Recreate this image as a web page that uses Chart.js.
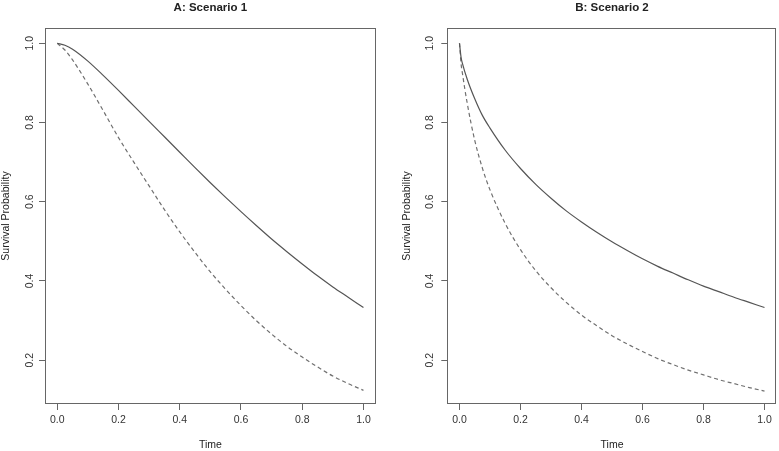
<!DOCTYPE html>
<html>
<head>
<meta charset="utf-8">
<script src="https://cdn.jsdelivr.net/npm/chart.js@4/dist/chart.umd.min.js"></script>
<style>
  html, body { margin: 0; padding: 0; background: #ffffff; }
  #wrap { position: relative; width: 779px; height: 451px; background: #ffffff; }
  canvas { position: absolute; top: 0; }
</style>
</head>
<body>
<div id="wrap">
  <canvas id="chartA" width="390" height="451" style="left:0px"></canvas>
  <canvas id="chartB" width="389" height="451" style="left:390px"></canvas>
</div>
<script>
// ---- Data ----
const panelTitles = ["A: Scenario 1", "B: Scenario 2"];
const xAxisLabel = "Time";
const yAxisLabel = "Survival Probability";
const xTickValues = [0.0, 0.2, 0.4, 0.6, 0.8, 1.0];
const yTickValues = [0.2, 0.4, 0.6, 0.8, 1.0];

// Scenario 1
const timeA = [0, 0.025, 0.05, 0.1, 0.15, 0.2, 0.25, 0.3, 0.35, 0.4, 0.45, 0.5,
               0.55, 0.6, 0.65, 0.7, 0.75, 0.8, 0.85, 0.9, 0.95, 1.0];
const scen1Solid  = [1.000, 0.995, 0.985, 0.955, 0.919, 0.881, 0.842, 0.803, 0.764, 0.725, 0.686, 0.648,
                     0.611, 0.575, 0.540, 0.506, 0.474, 0.443, 0.413, 0.385, 0.359, 0.333];
const scen1Dashed = [1.000, 0.983, 0.958, 0.897, 0.830, 0.762, 0.700, 0.640, 0.580, 0.524, 0.472, 0.423,
                     0.379, 0.338, 0.300, 0.266, 0.235, 0.208, 0.183, 0.160, 0.141, 0.124];

// Scenario 2
const timeB = [0, 0.005, 0.01, 0.025, 0.05, 0.075, 0.1, 0.15, 0.2, 0.25, 0.3, 0.35, 0.4,
               0.45, 0.5, 0.55, 0.6, 0.65, 0.7, 0.75, 0.8, 0.85, 0.9, 0.95, 1.0];
const scen2Solid  = [1.000, 0.965, 0.948, 0.910, 0.860, 0.818, 0.786, 0.730, 0.684, 0.644, 0.609, 0.577, 0.549,
                     0.523, 0.499, 0.477, 0.456, 0.437, 0.420, 0.403, 0.387, 0.373, 0.359, 0.346, 0.333];
const scen2Dashed = [1.000, 0.950, 0.922, 0.850, 0.755, 0.685, 0.630, 0.545, 0.479, 0.426, 0.383, 0.346, 0.314,
                     0.287, 0.262, 0.241, 0.222, 0.204, 0.189, 0.175, 0.163, 0.151, 0.141, 0.131, 0.122];

// ---- Chart setup ----
Chart.defaults.font.family = "'Liberation Sans', Arial, Helvetica, sans-serif";
Chart.defaults.color = "#333";

const rBoxPlugin = {
  id: 'rbox',
  afterDraw(chart, args, opts) {
    const ctx = chart.ctx;
    const a = chart.chartArea;
    ctx.save();
    ctx.strokeStyle = '#666';
    ctx.lineWidth = 1;
    ctx.strokeRect(Math.round(a.left) + 0.5, Math.round(a.top) + 0.5,
                   Math.round(a.right - a.left) - 1, Math.round(a.bottom - a.top) - 1);
    // rotated y tick labels (R style, parallel to axis)
    const ys = chart.scales.y;
    ctx.fillStyle = '#333';
    ctx.font = "10.5px 'Liberation Sans', Arial, sans-serif";
    ctx.textAlign = 'center';
    ctx.textBaseline = 'middle';
    ys.ticks.forEach(t => {
      const py = ys.getPixelForValue(t.value);
      ctx.save();
      ctx.translate(a.left - opts.labelOffset, py);
      ctx.rotate(-Math.PI / 2);
      ctx.fillText(t.value.toFixed(1), 0, 0);
      ctx.restore();
    });
    ctx.restore();
  }
};

function makePanel(id, title, times, solid, dashed, lay) {
  const solidPts = times.map((t, i) => ({ x: t, y: solid[i] }));
  const dashedPts = times.map((t, i) => ({ x: t, y: dashed[i] }));
  return new Chart(document.getElementById(id), {
    type: 'line',
    data: {
      datasets: [
        { data: solidPts, borderColor: '#555555', borderWidth: 1.2, pointRadius: 0,
          cubicInterpolationMode: 'monotone', fill: false },
        { data: dashedPts, borderColor: '#707070', borderWidth: 1.2, pointRadius: 0,
          borderDash: [4, 3], cubicInterpolationMode: 'monotone', fill: false }
      ]
    },
    options: {
      responsive: false,
      animation: false,
      devicePixelRatio: 1,
      layout: { padding: { left: lay.padLeft, right: lay.padRight, top: 0, bottom: 0 } },
      plugins: {
        legend: { display: false },
        tooltip: { enabled: false },
        title: {
          display: true, text: title, fullSize: false, color: '#222',
          font: { size: 11.5, weight: 'bold' },
          padding: { top: 1, bottom: 13.2 }
        },
        rbox: { labelOffset: lay.labelOffset }
      },
      scales: {
        x: {
          type: 'linear', min: -0.04, max: 1.04,
          afterBuildTicks: s => { s.ticks = xTickValues.map(v => ({ value: v })); },
          afterFit: s => { s.height = 47; },
          grid: { drawOnChartArea: false, drawTicks: true, tickLength: 6, color: '#666' },
          border: { display: false },
          ticks: { padding: 4, font: { size: 10.5 }, color: '#333',
                   callback: v => Number(v).toFixed(1), maxRotation: 0, autoSkip: false },
          title: { display: true, text: xAxisLabel, font: { size: 10.5 }, color: '#222',
                   padding: { top: 0, bottom: 0 } }
        },
        y: {
          type: 'linear', min: 0.0895, max: 1.0386,
          afterBuildTicks: s => { s.ticks = yTickValues.map(v => ({ value: v })); },
          afterFit: s => { s.width = lay.yWidth; },
          grid: { drawOnChartArea: false, drawTicks: true, tickLength: 6, color: '#666' },
          border: { display: false },
          ticks: { display: false },
          title: { display: true, text: yAxisLabel, font: { size: 10.5 }, color: '#222',
                   padding: { top: 0, bottom: 0 } }
        }
      }
    },
    plugins: [rBoxPlugin]
  });
}

makePanel('chartA', panelTitles[0], timeA, scen1Solid, scen1Dashed,
          { padLeft: 0, padRight: 14.3, yWidth: 45, labelOffset: 15 });
makePanel('chartB', panelTitles[1], timeB, scen2Solid, scen2Dashed,
          { padLeft: 10.4, padRight: 2.3, yWidth: 46.9, labelOffset: 17 });
</script>
</body>
</html>
